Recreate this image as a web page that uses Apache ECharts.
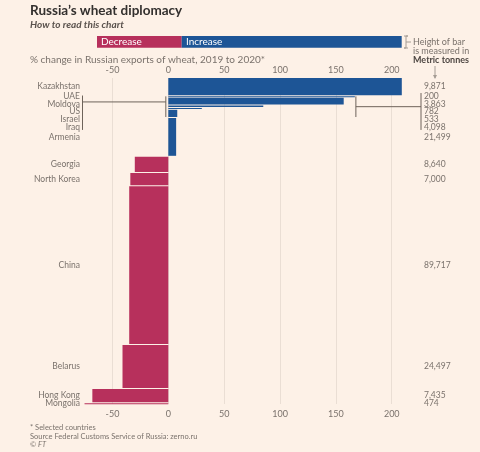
<!DOCTYPE html>
<html>
<head>
<meta charset="utf-8">
<script src="https://cdn.jsdelivr.net/npm/echarts@6/dist/echarts.min.js"></script>
<style>
    html, body {margin: 0; padding: 0; background: #fdf1e7;}
    #chart {width: 480px; height: 452px;}
</style>
</head>
<body>
<div id="chart"></div>
<script>
// values
var countries = ['Kazakhstan', 'UAE', 'Moldova', 'US', 'Israel', 'Iraq', 'Armenia',
    'Georgia', 'North Korea', 'China', 'Belarus', 'Hong Kong', 'Mongolia'];
var tonnes = [9871, 200, 3863, 782, 533, 4098, 21499, 8640, 7000, 89717, 24497, 7435, 474];
var pctChange = [209, 167, 157, 85, 30, 8, 7, -30, -34, -35, -41, -68, -75];
var axisTicks = [-50, 0, 50, 100, 150, 200];
var bracketGroup = ['UAE', 'Iraq'];

var BLUE = '#1d5596', RED = '#b7305c', GREY = '#7a726c', DARK = '#33302e', LINE = '#6e635a';
var FONT = 'Lato';
var barGap = 570;    // empty space between bars, in y-axis tonnes
var labelGap = 7.6;  // min pixels between stacked country labels

var starts = [];
var cum = 0;
for (var i = 0; i < tonnes.length; i++) {
    starts.push(cum);
    cum += tonnes[i] + barGap;
}
var yMax = cum - barGap;

var barData = countries.map(function (name, i) {
    return [starts[i], starts[i] + tonnes[i], pctChange[i]];
});

// label y positions: bar centres, pushed down so they never overlap
function labelYs(api) {
    var ys = [];
    for (var i = 0; i < countries.length; i++) {
        var c = api.coord([0, starts[i] + tonnes[i] / 2])[1];
        ys.push(i > 0 ? Math.max(c, ys[i - 1] + labelGap) : c);
    }
    return ys;
}

function txt(text, x, y, opts) {
    opts = opts || {};
    return {
        type: 'text',
        style: {
            text: text, x: x, y: y,
            align: opts.align || 'left',
            verticalAlign: 'middle',
            fontFamily: FONT,
            fontSize: opts.size || 9,
            fontWeight: opts.weight || 'normal',
            fontStyle: opts.style || 'normal',
            fill: opts.color || GREY
        }
    };
}

function renderBar(params, api) {
    var i = params.dataIndex;
    var p0 = api.coord([0, api.value(0)]);
    var p1 = api.coord([api.value(2), api.value(1)]);
    var ys = labelYs(api);
    return {
        type: 'group',
        children: [
            {
                type: 'rect',
                shape: {
                    x: Math.min(p0[0], p1[0]),
                    y: p0[1],
                    width: Math.abs(p1[0] - p0[0]),
                    height: Math.max(p1[1] - p0[1], 1)
                },
                style: {fill: api.value(2) >= 0 ? BLUE : RED}
            },
            txt(countries[i], 80, ys[i], {align: 'right', size: 8.5}),
            txt(tonnes[i].toLocaleString('en-US'), 424, ys[i], {size: 8.5})
        ]
    };
}

function renderBrackets(params, api) {
    var a = countries.indexOf(bracketGroup[0]);
    var b = countries.indexOf(bracketGroup[1]);
    var ys = labelYs(api);
    var top = api.coord([0, starts[a]])[1];
    var bottom = api.coord([0, starts[b] + tonnes[b]])[1];
    var xZero = api.coord([0, 0])[0] - 2.5;
    var xRight = api.coord([Math.max.apply(null, pctChange.slice(a, b + 1)), 0])[0] + 1;
    var yLeft = top + (bottom - top) * 0.27;
    var yRight = (top + bottom) / 2;
    var st = {stroke: LINE, lineWidth: 1};
    function ln(x1, y1, x2, y2) {
        return {type: 'line', shape: {x1: x1, y1: y1, x2: x2, y2: y2}, style: st};
    }
    return {
        type: 'group',
        children: [
            ln(82.5, ys[a] - 1, 82.5, ys[b] + 3),
            ln(82.5, yLeft, xZero, yLeft),
            ln(xZero, top, xZero, bottom),
            ln(421, ys[a] - 3.5, 421, ys[b] + 3),
            ln(xRight, yRight, 421, yRight),
            ln(xRight, top, xRight, bottom)
        ]
    };
}

var chart = echarts.init(document.getElementById('chart'));
var axisBase = {
    type: 'value',
    min: -100,
    max: 250,
    interval: 50,
    axisLine: {show: false},
    axisTick: {show: false},
    axisLabel: {
        showMinLabel: false,
        showMaxLabel: false,
        color: GREY,
        fontFamily: FONT,
        fontSize: 9
    }
};

chart.setOption({
    backgroundColor: '#fdf1e7',
    animation: false,
    grid: {left: 56.6, right: 32.4, top: 78, bottom: 48},
    xAxis: [
        echarts.util.merge({
            position: 'bottom',
            axisLabel: {margin: 6},
            splitLine: {show: true, showMinLine: false, showMaxLine: false, lineStyle: {color: '#eaded4', width: 1}}
        }, axisBase),
        echarts.util.merge({
            position: 'top',
            axisLabel: {margin: 3},
            splitLine: {show: false}
        }, axisBase)
    ],
    yAxis: {
        type: 'value',
        inverse: true,
        min: 0,
        max: yMax,
        show: false
    },
    series: [
        {
            type: 'custom',
            renderItem: renderBar,
            clip: false,
            encode: {x: 2, y: [0, 1]},
            data: barData
        },
        {
            type: 'custom',
            renderItem: renderBrackets,
            clip: false,
            silent: true,
            data: [[0, 0]]
        }
    ],
    graphic: [
        {type: 'group', children: [
            txt('Russia\u2019s wheat diplomacy', 30, 11, {size: 13.5, weight: 'bold', color: DARK}),
            txt('How to read this chart', 30, 25, {size: 10, weight: 'bold', style: 'italic', color: '#5a524d'}),
            {type: 'rect', shape: {x: 97, y: 36, width: 84.7, height: 11.7}, style: {fill: RED}},
            {type: 'rect', shape: {x: 181.7, y: 36, width: 220, height: 11.7}, style: {fill: BLUE}},
            txt('Decrease', 101, 42, {size: 10, color: '#fff'}),
            txt('Increase', 186, 42, {size: 10, color: '#fff'}),
            {type: 'polyline', shape: {points: [[404, 36], [408, 36], [406, 36], [406, 48], [404, 48], [408, 48]]}, style: {stroke: '#a59c94', lineWidth: 1}},
            {type: 'line', shape: {x1: 406, y1: 42, x2: 411, y2: 42}, style: {stroke: '#a59c94', lineWidth: 1}},
            txt('Height of bar', 413, 42),
            txt('is measured in', 413, 51),
            txt('Metric tonnes', 413, 60, {weight: 'bold', color: '#4e4743'}),
            {type: 'line', shape: {x1: 435, y1: 66, x2: 435, y2: 78}, style: {stroke: '#a59c94', lineWidth: 1}},
            {type: 'polygon', shape: {points: [[433, 75], [437, 75], [435, 79]]}, style: {fill: '#a59c94'}},
            txt('% change in Russian exports of wheat, 2019 to 2020*', 30, 60, {size: 10}),
            txt('* Selected countries', 30, 428, {size: 7.5}),
            txt('Source Federal Customs Service of Russia: zerno.ru', 30, 436.5, {size: 7.5}),
            txt('\u00a9 FT', 30, 444.5, {size: 7.5, style: 'italic'})
        ]}
    ]
});
</script>
</body>
</html>
